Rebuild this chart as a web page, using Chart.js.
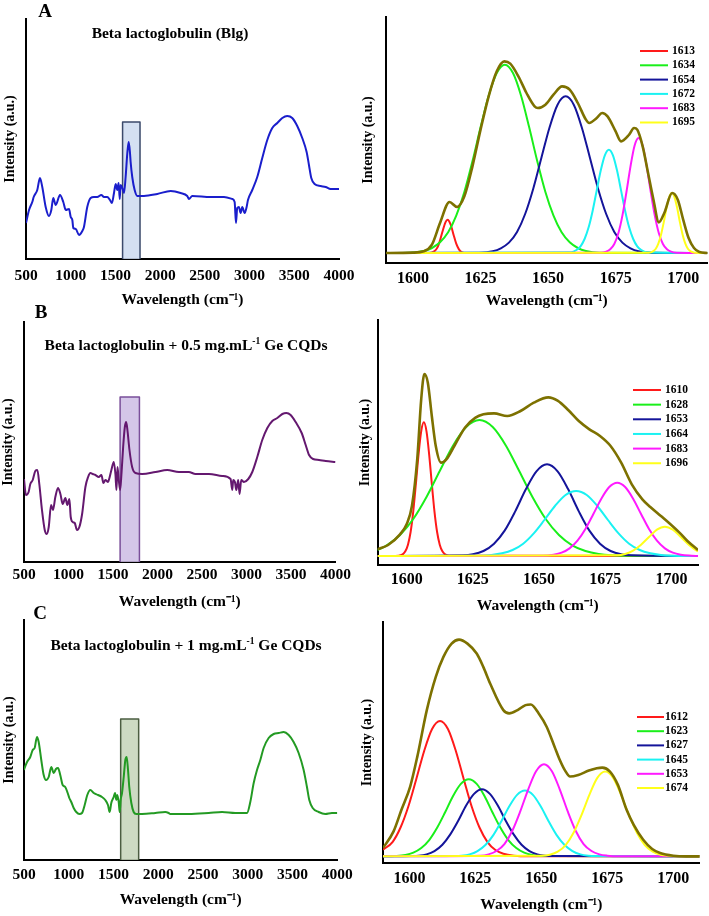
<!DOCTYPE html>
<html>
<head>
<meta charset="utf-8">
<script src="https://cdn.jsdelivr.net/npm/chart.js@4.4.1/dist/chart.umd.min.js"></script>
<style>
body { margin: 0; background: #fff; }
#fig { position: relative; width: 709px; height: 916px; overflow: hidden; background: #fff;
       font-family: "Liberation Serif", "Times New Roman", serif; font-weight: bold; color: #000; }
.cv { position: absolute; }
.letter { position: absolute; font-size: 19px; line-height: 19px; transform: translate(-50%, -50%); }
.ttl { position: absolute; font-size: 15.5px; line-height: 16px; white-space: nowrap; transform: translate(-50%, -50%); }
.ttl sup { font-size: 9.5px; vertical-align: 6px; line-height: 0; }
</style>
</head>
<body>
<div id="fig">
  <div class="cv" style="left:0;top:0;width:355px;height:310px"><canvas id="aL"></canvas></div>
  <div class="cv" style="left:355px;top:0;width:354px;height:310px"><canvas id="aR"></canvas></div>
  <div class="cv" style="left:0;top:310px;width:355px;height:305px"><canvas id="bL"></canvas></div>
  <div class="cv" style="left:355px;top:310px;width:354px;height:305px"><canvas id="bR"></canvas></div>
  <div class="cv" style="left:0;top:615px;width:355px;height:301px"><canvas id="cL"></canvas></div>
  <div class="cv" style="left:355px;top:615px;width:354px;height:301px"><canvas id="cR"></canvas></div>

  <div class="letter" style="left:45px;top:10px">A</div>
  <div class="letter" style="left:41px;top:311px">B</div>
  <div class="letter" style="left:40px;top:612px">C</div>
  <div class="ttl" style="left:170px;top:33px">Beta lactoglobulin (Blg)</div>
  <div class="ttl" style="left:186px;top:345px">Beta lactoglobulin + 0.5 mg.mL<sup>-1</sup> Ge CQDs</div>
  <div class="ttl" style="left:186px;top:645px">Beta lactoglobulin + 1 mg.mL<sup>-1</sup> Ge CQDs</div>
</div>
<script>
// ---- FTIR spectra, [wavenumber, intensity] ----
const blgSpectrum = [[500,36],[534,49],[570,57],[586,62],[626,69],[656,81],[682,72],[720,52],[757,43],[783,49],[805,61],[832,54],[880,64],[917,57],[944,49],[981,50],[1000,42],[1018,39],[1029,31],[1056,30],[1093,24],[1130,28],[1148,32],[1185,52],[1223,61],[1260,62],[1297,62],[1342,64],[1372,62],[1409,62],[1439,59],[1461,56],[1484,66],[1503,75],[1521,69],[1536,76],[1548,60],[1558,74],[1577,71],[1596,66],[1614,82],[1633,106],[1648,117],[1663,106],[1670,97],[1688,82],[1715,69],[1745,63],[1819,63],[1968,65],[2118,68],[2229,66],[2303,63],[2322,60],[2359,63],[2565,62],[2714,62],[2807,60],[2833,57],[2848,36],[2862,51],[2881,52],[2900,46],[2918,52],[2945,46],[2967,52],[2982,59],[3030,69],[3086,82],[3142,101],[3198,119],[3254,131],[3310,136],[3366,141],[3421,143],[3477,141],[3533,133],[3589,121],[3638,107],[3664,94],[3690,81],[3727,75],[3795,73],[3851,72],[3906,70],[4000,70]];
const blg05Spectrum = [[500,83],[522,67],[552,70],[571,78],[598,82],[627,91],[650,92],[672,78],[702,52],[733,32],[755,28],[778,35],[804,57],[826,52],[852,65],[882,74],[909,68],[935,58],[965,64],[987,57],[1010,63],[1025,45],[1048,40],[1070,39],[1096,32],[1122,35],[1153,48],[1190,75],[1220,85],[1246,89],[1273,88],[1302,87],[1340,85],[1370,87],[1392,79],[1415,82],[1445,80],[1460,84],[1482,92],[1509,100],[1527,88],[1539,72],[1550,95],[1565,82],[1580,72],[1595,88],[1614,115],[1633,135],[1648,140],[1662,132],[1685,112],[1715,95],[1752,89],[1828,88],[1977,90],[2109,92],[2240,90],[2315,90],[2352,90],[2427,88],[2578,88],[2727,86],[2821,83],[2840,72],[2851,82],[2870,80],[2885,72],[2907,82],[2922,68],[2941,82],[2971,80],[3020,83],[3065,90],[3121,105],[3177,122],[3234,134],[3290,141],[3346,144],[3403,148],[3448,149],[3496,147],[3552,140],[3620,129],[3665,117],[3703,107],[3748,103],[3815,102],[3890,101],[4000,100]];
const blg1Spectrum = [[500,90],[507,92],[534,98],[570,103],[597,110],[619,112],[645,123],[664,118],[693,100],[720,85],[746,80],[776,83],[805,93],[832,87],[857,91],[880,92],[905,85],[932,75],[961,73],[988,67],[1006,62],[1028,58],[1055,52],[1084,48],[1118,46],[1148,47],[1178,55],[1207,65],[1241,70],[1279,67],[1327,65],[1371,63],[1408,60],[1438,55],[1457,48],[1475,57],[1502,63],[1517,67],[1531,60],[1542,65],[1558,58],[1569,48],[1580,60],[1595,67],[1614,83],[1632,100],[1647,103],[1662,90],[1676,73],[1699,57],[1725,48],[1754,46],[1818,46],[1967,47],[2078,48],[2116,47],[2134,46],[2340,46],[2563,47],[2712,48],[2860,47],[2991,47],[3028,58],[3066,77],[3103,90],[3140,100],[3177,112],[3233,122],[3289,126],[3345,127],[3401,128],[3457,125],[3512,118],[3568,107],[3624,90],[3661,73],[3687,60],[3725,52],[3792,48],[3866,46],[3940,47],[4000,47]];

// amide I region marked on each spectrum: [from, to], box height
const blgBand = [1580, 1775];   const blgBandTop = 137;
const blg05Band = [1580, 1797]; const blg05BandTop = 165;
const blg1Band = [1580, 1781];  const blg1BandTop = 141;

const wideTicks = [500, 1000, 1500, 2000, 2500, 3000, 3500, 4000];
const amideTicks = [1600, 1625, 1650, 1675, 1700];

// ---- deconvolved amide I bands ----
const blgPeaks = ['1613', '1634', '1654', '1672', '1683', '1695'];
const blgFit = [[1590,0],[1600,1],[1604,5],[1607,25],[1610,90],[1613.5,153],[1616.3,138],[1619,170],[1622,260],[1625,370],[1628,470],[1631,545],[1633.8,575],[1636,568],[1639,530],[1642,480],[1645,440],[1646.2,435],[1649,445],[1652,475],[1655.2,500],[1658,490],[1661,450],[1664,400],[1665.2,390],[1668,405],[1670,420],[1672,410],[1675,365],[1677,335],[1680,355],[1681.8,375],[1683,370],[1685,320],[1687,240],[1689,160],[1691,92],[1693,120],[1695.9,180],[1698,160],[1700,100],[1702,45],[1704,15],[1706,3],[1709,0]];
const blg1613 = [[1590,0],[1606,0],[1608,6],[1609,16],[1610,38],[1611,67],[1612,92],[1612.8,100],[1614,84],[1615,55],[1616,28],[1617,11],[1618,3],[1620,0],[1709,0]];
const blg1634 = [[1590,0],[1599,1],[1604,6],[1607,15],[1610,32],[1613,62],[1616,112],[1619,183],[1622,275],[1625,377],[1628,472],[1631,540],[1634,565],[1637,540],[1640,472],[1643,377],[1646,275],[1649,183],[1652,112],[1655,62],[1658,32],[1661,15],[1664,6],[1669,1],[1709,0]];
const blg1654 = [[1590,0],[1624.5,1],[1629.5,5],[1632.5,14],[1635.5,31],[1638.5,63],[1641.5,117],[1644.5,193],[1647.5,285],[1650.5,376],[1653.5,445],[1656.5,470],[1659.5,445],[1662.5,376],[1665.5,285],[1668.5,193],[1671.5,117],[1674.5,63],[1677.5,31],[1680.5,14],[1683.5,5],[1688.5,1],[1709,0]];
const blg1672 = [[1590,0],[1658.5,2],[1660.5,9],[1662,20],[1663.5,42],[1665,77],[1666.5,127],[1668,188],[1669.5,248],[1671,293],[1672.5,310],[1674,293],[1675.5,248],[1677,188],[1678.5,127],[1680,77],[1681.5,42],[1683,20],[1684.5,9],[1686.5,2],[1709,0]];
const blg1683 = [[1590,0],[1669.5,1],[1671.5,4],[1673,11],[1674.5,27],[1676,59],[1677.5,112],[1679,183],[1680.5,260],[1682,322],[1683.5,345],[1685,322],[1686.5,260],[1688,183],[1689.5,112],[1691,59],[1692.5,27],[1694,11],[1695.5,4],[1697.5,1],[1709,0]];
const blg1695 = [[1590,0],[1687.3,1],[1688.8,5],[1689.8,12],[1690.8,28],[1691.8,55],[1692.8,92],[1693.8,134],[1694.8,167],[1695.8,180],[1696.8,167],[1697.8,134],[1698.8,92],[1699.8,55],[1700.8,28],[1701.8,12],[1702.8,5],[1704.3,1],[1709,0]];

const blg05Peaks = ['1610', '1628', '1653', '1664', '1683', '1696'];
const blg05Fit = [[1589,20],[1593,33],[1597.5,65],[1600,95],[1602,150],[1604,290],[1605.5,470],[1606.7,546],[1608,520],[1609.5,420],[1611,330],[1613,280],[1615,290],[1618,330],[1622,385],[1626,415],[1629,425],[1633,428],[1638,420],[1643,435],[1648,460],[1653.5,476],[1657,466],[1661,438],[1665,405],[1669,380],[1673,360],[1677,330],[1681,280],[1685,215],[1689,170],[1692,147],[1696,120],[1699.5,96],[1703,70],[1706,45],[1710,18]];
const blg05_1610 = [[1589,0],[1597,1],[1598.5,5],[1599.5,14],[1600.5,34],[1601.5,72],[1602.5,134],[1603.5,217],[1604.5,305],[1605.5,374],[1606.5,401],[1607.5,374],[1608.5,305],[1609.5,217],[1610.5,134],[1611.5,72],[1612.5,34],[1613.5,14],[1614.5,5],[1616,1],[1710,0]];
const blg05_1628 = [[1589,18],[1592.5,32],[1597.5,63],[1602.5,111],[1607.5,177],[1612.5,255],[1617.5,331],[1622.5,387],[1627.5,408],[1632.5,387],[1637.5,331],[1642.5,255],[1647.5,177],[1652.5,111],[1657.5,63],[1662.5,32],[1667.5,15],[1672.5,6],[1677.5,2],[1682.5,1],[1710,0]];
const blg05_1653 = [[1589,0],[1621,2],[1625,5],[1629,15],[1633,37],[1637,76],[1641,134],[1645,200],[1649,254],[1653,275],[1657,254],[1661,200],[1665,134],[1669,76],[1673,37],[1677,15],[1681,5],[1685,2],[1710,0]];
const blg05_1664 = [[1589,0],[1628,1],[1632,3],[1636,8],[1640,18],[1644,37],[1648,68],[1652,108],[1656,150],[1660,183],[1664,195],[1668,183],[1672,150],[1676,108],[1680,68],[1684,37],[1688,18],[1692,8],[1696,3],[1700,1],[1710,0]];
const blg05_1683 = [[1589,0],[1651.5,1],[1655.5,4],[1658.5,10],[1661.5,23],[1664.5,46],[1667.5,81],[1670.5,126],[1673.5,172],[1676.5,207],[1679.5,220],[1682.5,207],[1685.5,172],[1688.5,126],[1691.5,81],[1694.5,46],[1697.5,23],[1700.5,10],[1703.5,4],[1707.5,1],[1710,0]];
const blg05_1696 = [[1589,0],[1679.5,2],[1682.5,6],[1685.5,16],[1688.5,34],[1691.5,57],[1694.5,79],[1697.5,88],[1700.5,79],[1703.5,57],[1706.5,34],[1709.5,16],[1710,14]];

const blg1Peaks = ['1612', '1623', '1627', '1645', '1653', '1674'];
const blg1Fit = [[1590,25],[1594,75],[1597,140],[1600.3,210],[1603,300],[1606.6,440],[1610,540],[1612.9,600],[1616,640],[1618.8,652],[1622,640],[1625.5,610],[1628,570],[1630.6,520],[1635.6,440],[1637.8,430],[1641,440],[1644,455],[1646,457],[1649,430],[1652,390],[1655,330],[1657,290],[1659,258],[1660.9,240],[1664,245],[1668,258],[1671,265],[1673.1,267],[1676,255],[1679,215],[1682.3,140],[1685,95],[1688.6,50],[1692,22],[1695,10],[1700,2],[1705,0],[1710,0]];
const blg1_1612 = [[1590,20],[1593.6,43],[1596.6,86],[1599.6,150],[1602.6,232],[1605.6,317],[1608.6,383],[1611.6,407],[1614.6,383],[1617.6,317],[1620.6,232],[1623.6,150],[1626.6,86],[1629.6,43],[1632.6,19],[1635.6,8],[1639.6,2],[1645,0],[1710,0]];
const blg1_1623 = [[1590,0],[1594.5,1],[1598.5,4],[1601.5,11],[1604.5,25],[1607.5,49],[1610.5,86],[1613.5,132],[1616.5,181],[1619.5,218],[1622.5,232],[1625.5,218],[1628.5,181],[1631.5,132],[1634.5,86],[1637.5,49],[1640.5,25],[1643.5,11],[1646.5,4],[1650.5,1],[1710,0]];
const blg1_1627 = [[1590,0],[1600.5,1],[1603.5,2],[1606.5,6],[1609.5,16],[1612.5,35],[1615.5,66],[1618.5,107],[1621.5,153],[1624.5,188],[1627.5,202],[1630.5,188],[1633.5,153],[1636.5,107],[1639.5,66],[1642.5,35],[1645.5,16],[1648.5,6],[1651.5,2],[1654.5,1],[1710,0]];
const blg1_1645 = [[1590,0],[1616.8,1],[1619.8,2],[1622.8,6],[1625.8,16],[1628.8,34],[1631.8,64],[1634.8,105],[1637.8,150],[1640.8,185],[1643.8,198],[1646.8,185],[1649.8,150],[1652.8,105],[1655.8,64],[1658.8,34],[1661.8,16],[1664.8,6],[1667.8,2],[1670.8,1],[1710,0]];
const blg1_1653 = [[1590,0],[1627,2],[1630,6],[1633,16],[1636,37],[1639,77],[1642,135],[1645,201],[1648,256],[1651,277],[1654,256],[1657,201],[1660,135],[1663,77],[1666,37],[1669,16],[1672,6],[1675,2],[1679,0],[1710,0]];
const blg1_1674 = [[1590,0],[1650.2,2],[1653.2,5],[1656.2,14],[1659.2,34],[1662.2,71],[1665.2,124],[1668.2,185],[1671.2,236],[1674.2,255],[1677.2,236],[1680.2,185],[1683.2,124],[1686.2,71],[1689.2,34],[1692.2,14],[1695.2,5],[1698.2,2],[1702,0],[1710,0]];

// ---- drawing ----
const SERIF = '"Liberation Serif", "Times New Roman", serif';
const bandColors = ['#ff1a1a', '#1aef1a', '#14149a', '#1af2f2', '#ff1aff', '#ffff1a'];
const fitColor = '#7d7100';

// legend of the fitted bands, drawn inside the plot
const peakLegend = {
  id: 'peakLegend',
  afterDatasetsDraw(chart, args, opts) {
    if (!opts.rows) return;
    const ctx = chart.ctx;
    ctx.save();
    ctx.font = 'bold 11.5px ' + SERIF;
    ctx.textBaseline = 'middle';
    let row = 0;
    chart.data.datasets.forEach(ds => {
      if (!ds.inLegend) return;
      const y = opts.y + row * opts.step;
      ctx.strokeStyle = ds.borderColor;
      ctx.lineWidth = 2;
      ctx.beginPath();
      ctx.moveTo(opts.x, y);
      ctx.lineTo(opts.x + opts.len, y);
      ctx.stroke();
      ctx.fillStyle = '#000';
      ctx.fillText(ds.label, opts.textX, y);
      row++;
    });
    ctx.restore();
  }
};

function makePanel(id, box, area, cfg) {
  const Wy = area.l - box.x;
  const Hx = box.y + box.h - area.b;
  const tickSize = cfg.tickSize;
  const xTitleSize = 15.5, yTitleSize = 14;
  return new Chart(document.getElementById(id), {
    type: 'line',
    data: { datasets: cfg.datasets },
    plugins: cfg.legend ? [peakLegend] : [],
    options: {
      responsive: true,
      maintainAspectRatio: false,
      animation: false,
      layout: { padding: { left: 0, top: area.t - box.y, right: box.x + box.w - area.r, bottom: 0 } },
      elements: {
        point: { radius: 0 },
        line: { cubicInterpolationMode: 'monotone', fill: false, borderJoinStyle: 'round' }
      },
      plugins: {
        legend: { display: false },
        tooltip: { enabled: false },
        peakLegend: cfg.legend || {}
      },
      scales: {
        x: {
          type: 'linear', min: cfg.xMin, max: cfg.xMax,
          afterBuildTicks: s => { s.ticks = cfg.ticks.map(v => ({ value: v })); },
          afterFit: s => { s.height = Hx; s.paddingLeft = 0; s.paddingRight = 0; },
          grid: { display: false, drawTicks: false },
          border: { display: true, color: '#000', width: 2 },
          ticks: {
            color: '#000', autoSkip: false, maxRotation: 0,
            padding: cfg.tickY - area.b - tickSize / 2,
            font: { family: SERIF, size: tickSize, weight: 'bold', lineHeight: 1 },
            callback: v => String(v)
          },
          title: {
            display: true, text: 'Wavelength (cm⁻¹)', color: '#000',
            font: { family: SERIF, size: xTitleSize, weight: 'bold', lineHeight: 1 },
            padding: { top: 0, bottom: box.y + box.h - cfg.titleY - xTitleSize / 2 }
          }
        },
        y: {
          min: cfg.yMin, max: cfg.yMax,
          afterFit: s => { s.width = Wy; s.paddingTop = 0; s.paddingBottom = 0; },
          grid: { display: false, drawTicks: false },
          border: { display: true, color: '#000', width: 2 },
          ticks: { display: false },
          title: {
            display: true, text: 'Intensity (a.u.)', color: '#000',
            font: { family: SERIF, size: yTitleSize, weight: 'bold', lineHeight: 1 },
            padding: { top: cfg.yTitleX - box.x - yTitleSize / 2, bottom: 0 }
          }
        }
      }
    }
  });
}

function spectrumSets(spectrum, color, band, bandTop, bandFill, bandLine) {
  return [
    { data: spectrum, borderColor: color, borderWidth: 2, order: 0 },
    { data: [[band[0], 0], [band[0], bandTop], [band[1], bandTop], [band[1], 0]],
      borderColor: bandLine, backgroundColor: bandFill, borderWidth: 1.5,
      fill: 'origin', tension: 0, cubicInterpolationMode: 'default', order: 1 }
  ];
}

function fitSets(labels, bands, fit) {
  const sets = bands.map((d, i) => ({
    label: labels[i], data: d, borderColor: bandColors[i], borderWidth: 2,
    order: bands.length - i, inLegend: true
  }));
  sets.push({ label: 'fit', data: fit, borderColor: fitColor, borderWidth: 2.6, order: 0 });
  return sets;
}

makePanel('aL', { x: 0, y: 0, w: 355, h: 310 }, { l: 26, t: 19, r: 339, b: 259 }, {
  xMin: 500, xMax: 4000, ticks: wideTicks, yMin: 0, yMax: 240, tickSize: 15.5,
  tickY: 276, titleY: 300, yTitleX: 10,
  datasets: spectrumSets(blgSpectrum, '#1a1ecc', blgBand, blgBandTop, 'rgba(205,218,240,0.85)', '#3b4a6b')
});
makePanel('bL', { x: 0, y: 310, w: 355, h: 305 }, { l: 24, t: 322, r: 335.5, b: 562 }, {
  xMin: 500, xMax: 4000, ticks: wideTicks, yMin: 0, yMax: 240, tickSize: 15.5,
  tickY: 575, titleY: 602, yTitleX: 8.5,
  datasets: spectrumSets(blg05Spectrum, '#64186f', blg05Band, blg05BandTop, 'rgba(205,188,228,0.85)', '#7a4f9a')
});
makePanel('cL', { x: 0, y: 615, w: 355, h: 301 }, { l: 24, t: 620, r: 337.3, b: 860 }, {
  xMin: 500, xMax: 4000, ticks: wideTicks, yMin: 0, yMax: 240, tickSize: 15.5,
  tickY: 875, titleY: 900, yTitleX: 9.5,
  datasets: spectrumSets(blg1Spectrum, '#239a23', blg1Band, blg1BandTop, 'rgba(196,212,184,0.85)', '#4b5d41')
});

makePanel('aR', { x: 355, y: 0, w: 354, h: 310 }, { l: 386, t: 17, r: 707.5, b: 263 }, {
  xMin: 1590, xMax: 1709, ticks: amideTicks, yMin: -30, yMax: 708, tickSize: 16,
  tickY: 279, titleY: 301, yTitleX: 368,
  datasets: fitSets(blgPeaks, [blg1613, blg1634, blg1654, blg1672, blg1683, blg1695], blgFit),
  legend: { rows: 6, x: 285, len: 28, textX: 317, y: 51, step: 14.3 }
});
makePanel('bR', { x: 355, y: 310, w: 354, h: 305 }, { l: 377.5, t: 320, r: 698, b: 565 }, {
  xMin: 1589, xMax: 1710, ticks: amideTicks, yMin: -27, yMax: 708, tickSize: 16,
  tickY: 580, titleY: 606, yTitleX: 365,
  datasets: fitSets(blg05Peaks, [blg05_1610, blg05_1628, blg05_1653, blg05_1664, blg05_1683, blg05_1696], blg05Fit),
  legend: { rows: 6, x: 278, len: 28, textX: 310, y: 80, step: 14.65 }
});
makePanel('cR', { x: 355, y: 615, w: 354, h: 301 }, { l: 383, t: 622, r: 699.7, b: 863 }, {
  xMin: 1590, xMax: 1710, ticks: amideTicks, yMin: -20, yMax: 705, tickSize: 16,
  tickY: 879, titleY: 905, yTitleX: 367,
  datasets: fitSets(blg1Peaks, [blg1_1612, blg1_1623, blg1_1627, blg1_1645, blg1_1653, blg1_1674], blg1Fit),
  legend: { rows: 6, x: 282, len: 27, textX: 310, y: 102, step: 14.2 }
});
</script>
</body>
</html>
